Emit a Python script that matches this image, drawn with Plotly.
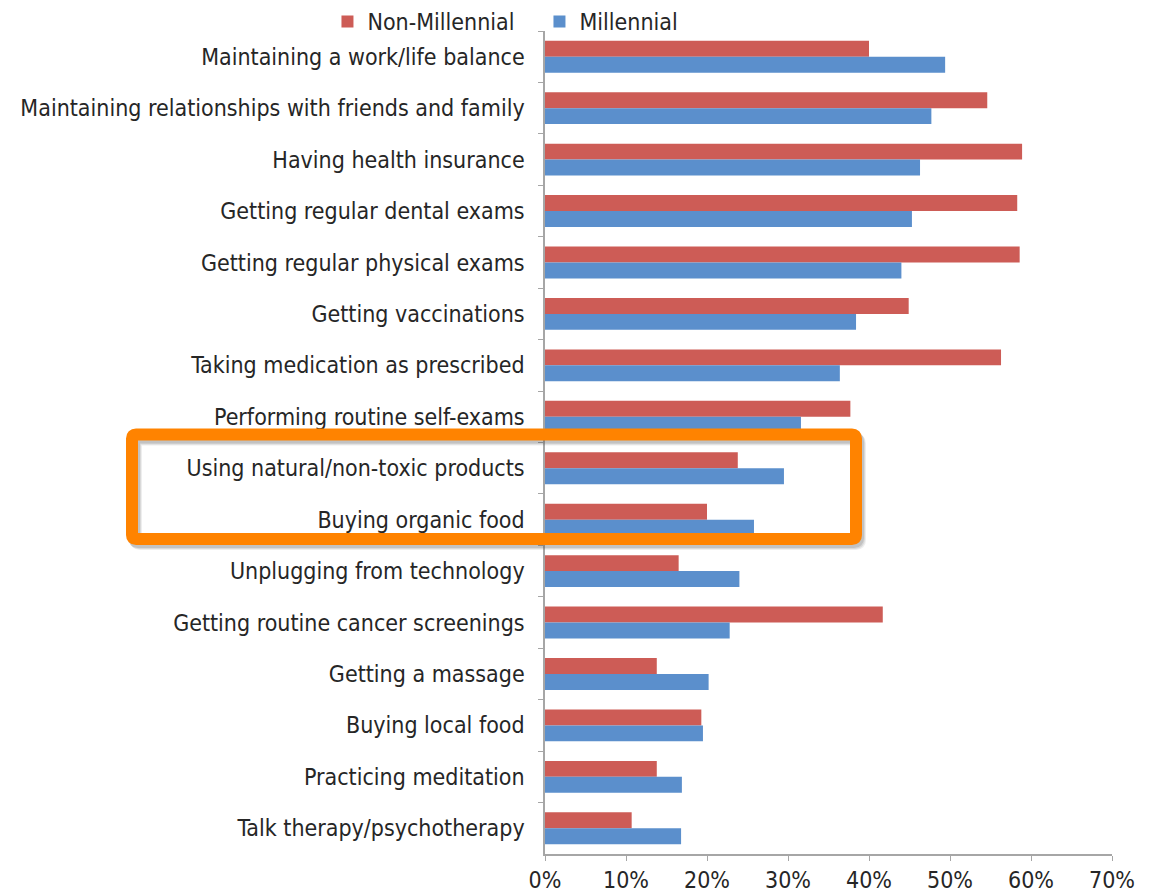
import plotly.graph_objects as go

categories = [
    "Maintaining a work/life balance",
    "Maintaining relationships with friends and family",
    "Having health insurance",
    "Getting regular dental exams",
    "Getting regular physical exams",
    "Getting vaccinations",
    "Taking medication as prescribed",
    "Performing routine self-exams",
    "Using natural/non-toxic products",
    "Buying organic food",
    "Unplugging from technology",
    "Getting routine cancer screenings",
    "Getting a massage",
    "Buying local food",
    "Practicing meditation",
    "Talk therapy/psychotherapy",
]
non_millennial = [0.40, 0.546, 0.589, 0.583, 0.586, 0.449, 0.563, 0.377,
                  0.238, 0.200, 0.165, 0.417, 0.138, 0.193, 0.138, 0.107]
millennial = [0.494, 0.477, 0.463, 0.453, 0.440, 0.384, 0.364, 0.316,
              0.295, 0.258, 0.240, 0.228, 0.202, 0.195, 0.169, 0.168]
x_ticks = [0, 0.1, 0.2, 0.3, 0.4, 0.5, 0.6, 0.7]
x_tick_labels = ["0%", "10%", "20%", "30%", "40%", "50%", "60%", "70%"]

W, H = 1149, 895
L, R, T, B = 545, 37, 31, 41
PW, PH = W - L - R, H - T - B

FONT = "Liberation Sans Narrow, DejaVu Sans Condensed, Arial Narrow, sans-serif"
TEXT = "#262626"

fig = go.Figure()
fig.add_trace(go.Bar(y=categories, x=non_millennial, orientation="h",
                     name="Non-Millennial", marker=dict(color="#CD5C56", line_width=0)))
fig.add_trace(go.Bar(y=categories, x=millennial, orientation="h",
                     name="Millennial", marker=dict(color="#5B8FCC", line_width=0)))


def px_to_paper(px, py):
    return (px - L) / PW, (H - B - py) / PH


def rounded_path(x0, y0, x1, y1, r):
    # rounded rectangle in pixel space, converted to paper coordinates
    def p(x, y):
        a, b = px_to_paper(x, y)
        return f"{a:.5f},{b:.5f}"
    return " ".join([
        f"M{p(x0 + r, y0)}",
        f"L{p(x1 - r, y0)}",
        f"Q{p(x1, y0)} {p(x1, y0 + r)}",
        f"L{p(x1, y1 - r)}",
        f"Q{p(x1, y1)} {p(x1 - r, y1)}",
        f"L{p(x0 + r, y1)}",
        f"Q{p(x0, y1)} {p(x0, y1 - r)}",
        f"L{p(x0, y0 + r)}",
        f"Q{p(x0, y0)} {p(x0 + r, y0)}",
        "Z",
    ])


# soft shadow under the highlight box
for off, op in [(5, 0.10), (4, 0.14), (3, 0.18)]:
    fig.add_shape(type="path", xref="paper", yref="paper",
                  path=rounded_path(132 + off - 1, 434.5 + off, 856 + off - 1, 539 + off, 4),
                  line=dict(color=f"rgba(90,90,90,{op})", width=12), layer="above")
# highlight box around the natural/organic rows
fig.add_shape(type="path", xref="paper", yref="paper",
              path=rounded_path(132, 434.5, 856, 539, 4),
              line=dict(color="#FF8300", width=12), layer="above")

fig.update_layout(
    width=W, height=H,
    margin=dict(l=L, r=R, t=T, b=B, autoexpand=False),
    paper_bgcolor="white", plot_bgcolor="white",
    barmode="group", bargap=0.38, bargroupgap=0,
    font=dict(family=FONT, size=23, color=TEXT),
    showlegend=True,
    legend=dict(orientation="h", xref="container", yref="container",
                x=0.285, y=1.0, xanchor="left", yanchor="top",
                font=dict(family=FONT, size=23, color=TEXT),
                bgcolor="rgba(0,0,0,0)", itemwidth=30, tracegroupgap=0,
                entrywidth=167, entrywidthmode="pixels",
                traceorder="normal"),
    xaxis=dict(range=[0, 0.7], tickvals=x_ticks, ticktext=x_tick_labels,
               showgrid=False, zeroline=False, showline=True,
               linecolor="#a6a6a6", linewidth=1.5, ticks="outside",
               ticklen=5, tickcolor="#a6a6a6",
               tickfont=dict(family=FONT, size=23, color=TEXT)),
    yaxis=dict(autorange="reversed", showgrid=False, zeroline=False,
               showline=True, linecolor="#a6a6a6", linewidth=1.5,
               ticks="outside", ticklen=5, tickcolor="#a6a6a6",
               tickson="boundaries", ticklabelstandoff=14,
               tickfont=dict(family=FONT, size=23, color=TEXT)),
)

fig.write_html("out.html")
